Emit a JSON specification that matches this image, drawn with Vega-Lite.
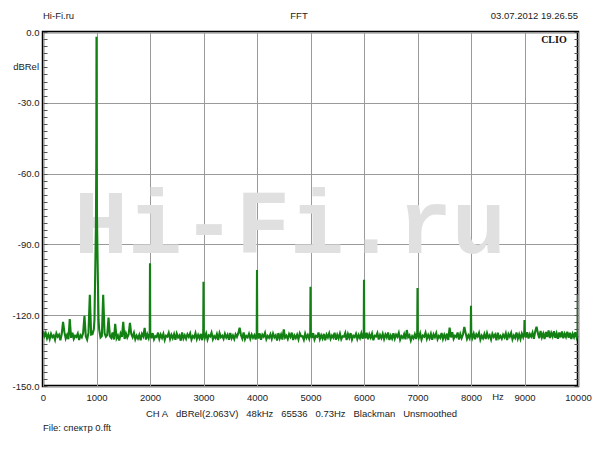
{
  "$schema": "https://vega.github.io/schema/vega-lite/v6.json",
  "width": 535,
  "height": 354,
  "autosize": {"type": "none"},
  "padding": {"left": 43, "top": 32, "right": 22, "bottom": 64},
  "background": "white",
  "config": {
    "view": {"stroke": "#000000", "strokeWidth": 2.5},
    "font": "Liberation Sans",
    "text": {"font": "Liberation Sans", "fontSize": 9.5},
    "axis": {"labelFont": "Liberation Sans", "labelFontSize": 9.5, "labelColor": "#222222", "titleFont": "Liberation Sans", "titleFontSize": 9.5, "titleFontWeight": "normal", "titleColor": "#222222"}
  },
  "datasets": {
    "fft": [
      {"f":0,"db":-126.8},{"f":25,"db":-128.9},{"f":50,"db":-127.5},{"f":75,"db":-129.8},{"f":100,"db":-128.2},{"f":125,"db":-130.1},{"f":150,"db":-127.9},{"f":175,"db":-129.3},{"f":200,"db":-128.6},{"f":225,"db":-130.4},
      {"f":250,"db":-127.7},{"f":275,"db":-129.1},{"f":300,"db":-128.3},{"f":325,"db":-130.6},{"f":350,"db":-128.0},{"f":375,"db":-122.8},{"f":400,"db":-127.2},{"f":425,"db":-129.9},{"f":450,"db":-128.4},{"f":475,"db":-130.2},
      {"f":500,"db":-121.6},{"f":525,"db":-129.6},{"f":550,"db":-127.4},{"f":575,"db":-130.0},{"f":600,"db":-128.7},{"f":625,"db":-129.2},{"f":650,"db":-127.8},{"f":675,"db":-130.5},{"f":700,"db":-128.5},{"f":725,"db":-129.4},
      {"f":750,"db":-127.6},{"f":775,"db":-120.3},{"f":800,"db":-128.9},{"f":825,"db":-130.3},{"f":850,"db":-127.5},{"f":875,"db":-111.4},{"f":900,"db":-128.2},
      {"f":925,"db":-128.0},{"f":950,"db":-126.0},{"f":962,"db":-122.0},{"f":972,"db":-108.0},{"f":980,"db":-96.0},{"f":990,"db":-80.0},{"f":996,"db":-55.0},{"f":998.5,"db":-25.0},{"f":1000,"db":-2.0},{"f":1001.5,"db":-25.0},{"f":1004,"db":-55.0},{"f":1010,"db":-80.0},{"f":1020,"db":-96.0},{"f":1028,"db":-108.0},{"f":1038,"db":-122.0},{"f":1050,"db":-126.0},
      {"f":1075,"db":-129.4},{"f":1100,"db":-128.8},{"f":1125,"db":-111.4},{"f":1150,"db":-127.6},{"f":1175,"db":-129.1},{"f":1200,"db":-128.4},{"f":1225,"db":-121.0},{"f":1250,"db":-128.9},{"f":1275,"db":-129.6},{"f":1300,"db":-127.3},
      {"f":1325,"db":-130.3},{"f":1350,"db":-123.7},{"f":1375,"db":-129.8},{"f":1400,"db":-128.6},{"f":1425,"db":-130.7},{"f":1450,"db":-127.8},{"f":1475,"db":-129.2},{"f":1500,"db":-122.8},{"f":1525,"db":-130.1},{"f":1550,"db":-127.7},
      {"f":1575,"db":-129.5},{"f":1600,"db":-128.2},{"f":1625,"db":-123.2},{"f":1650,"db":-128.0},{"f":1675,"db":-129.3},{"f":1700,"db":-127.5},{"f":1725,"db":-130.2},{"f":1750,"db":-128.7},{"f":1775,"db":-129.9},{"f":1800,"db":-128.3},
      {"f":1825,"db":-130.6},{"f":1850,"db":-127.9},{"f":1875,"db":-129.0},{"f":1900,"db":-125.4},{"f":1925,"db":-130.3},{"f":1950,"db":-128.1},{"f":1975,"db":-129.7},
      {"f":1995,"db":-127.5},{"f":2000,"db":-98.0},{"f":2005,"db":-127.5},
      {"f":2025,"db":-129.8},{"f":2050,"db":-127.6},{"f":2075,"db":-130.2},{"f":2100,"db":-128.9},{"f":2125,"db":-129.3},{"f":2150,"db":-127.4},{"f":2175,"db":-130.0},{"f":2200,"db":-128.2},{"f":2225,"db":-129.6},{"f":2250,"db":-127.9},
      {"f":2275,"db":-130.5},{"f":2300,"db":-128.7},{"f":2325,"db":-129.1},{"f":2350,"db":-127.5},{"f":2375,"db":-130.1},{"f":2400,"db":-128.3},{"f":2425,"db":-129.7},{"f":2450,"db":-128.0},{"f":2475,"db":-130.4},{"f":2500,"db":-127.8},
      {"f":2525,"db":-129.4},{"f":2550,"db":-128.6},{"f":2575,"db":-130.8},{"f":2600,"db":-127.3},{"f":2625,"db":-129.9},{"f":2650,"db":-128.5},{"f":2675,"db":-130.0},{"f":2700,"db":-128.1},{"f":2725,"db":-129.2},{"f":2750,"db":-127.7},
      {"f":2775,"db":-130.3},{"f":2800,"db":-128.8},{"f":2825,"db":-129.5},{"f":2850,"db":-127.6},{"f":2875,"db":-130.1},{"f":2900,"db":-128.4},{"f":2925,"db":-129.8},{"f":2950,"db":-127.9},{"f":2975,"db":-130.6},
      {"f":2995,"db":-127.5},{"f":3000,"db":-105.8},{"f":3005,"db":-127.5},
      {"f":3025,"db":-129.6},{"f":3050,"db":-127.8},{"f":3075,"db":-130.3},{"f":3100,"db":-128.5},{"f":3125,"db":-129.0},{"f":3150,"db":-127.4},{"f":3175,"db":-130.2},{"f":3200,"db":-128.9},{"f":3225,"db":-129.7},{"f":3250,"db":-128.0},
      {"f":3275,"db":-130.5},{"f":3300,"db":-127.6},{"f":3325,"db":-129.3},{"f":3350,"db":-128.7},{"f":3375,"db":-130.0},{"f":3400,"db":-127.9},{"f":3425,"db":-129.5},{"f":3450,"db":-128.3},{"f":3475,"db":-130.4},{"f":3500,"db":-127.5},
      {"f":3525,"db":-129.8},{"f":3550,"db":-128.6},{"f":3575,"db":-130.1},{"f":3600,"db":-128.1},{"f":3625,"db":-129.2},{"f":3650,"db":-127.7},{"f":3675,"db":-125.3},{"f":3700,"db":-128.4},{"f":3725,"db":-129.9},{"f":3750,"db":-127.3},
      {"f":3775,"db":-130.2},{"f":3800,"db":-128.8},{"f":3825,"db":-129.4},{"f":3850,"db":-127.9},{"f":3875,"db":-130.0},{"f":3900,"db":-128.2},{"f":3925,"db":-129.6},{"f":3950,"db":-128.5},{"f":3975,"db":-130.3},
      {"f":3995,"db":-127.5},{"f":4000,"db":-100.8},{"f":4005,"db":-127.5},
      {"f":4025,"db":-129.9},{"f":4050,"db":-127.7},{"f":4075,"db":-130.4},{"f":4100,"db":-128.3},{"f":4125,"db":-129.1},{"f":4150,"db":-127.5},{"f":4175,"db":-130.2},{"f":4200,"db":-128.8},{"f":4225,"db":-129.6},{"f":4250,"db":-128.1},
      {"f":4275,"db":-130.0},{"f":4300,"db":-127.8},{"f":4325,"db":-129.4},{"f":4350,"db":-128.5},{"f":4375,"db":-130.7},{"f":4400,"db":-127.6},{"f":4425,"db":-129.8},{"f":4450,"db":-128.2},{"f":4475,"db":-130.3},{"f":4500,"db":-126.0},
      {"f":4525,"db":-129.5},{"f":4550,"db":-128.7},{"f":4575,"db":-130.1},{"f":4600,"db":-128.0},{"f":4625,"db":-129.2},{"f":4650,"db":-127.4},{"f":4675,"db":-130.5},{"f":4700,"db":-128.6},{"f":4725,"db":-129.7},{"f":4750,"db":-128.3},
      {"f":4775,"db":-130.2},{"f":4800,"db":-127.7},{"f":4825,"db":-129.0},{"f":4850,"db":-128.9},{"f":4875,"db":-130.4},{"f":4900,"db":-127.8},{"f":4925,"db":-129.6},{"f":4950,"db":-128.4},{"f":4975,"db":-130.0},
      {"f":4995,"db":-127.5},{"f":5000,"db":-108.0},{"f":5005,"db":-127.5},
      {"f":5025,"db":-129.7},{"f":5050,"db":-127.6},{"f":5075,"db":-130.3},{"f":5100,"db":-128.8},{"f":5125,"db":-129.2},{"f":5150,"db":-127.3},{"f":5175,"db":-130.1},{"f":5200,"db":-128.5},{"f":5225,"db":-129.9},{"f":5250,"db":-127.9},
      {"f":5275,"db":-130.6},{"f":5300,"db":-128.2},{"f":5325,"db":-129.4},{"f":5350,"db":-127.7},{"f":5375,"db":-130.0},{"f":5400,"db":-128.6},{"f":5425,"db":-129.5},{"f":5450,"db":-127.4},{"f":5475,"db":-130.4},{"f":5500,"db":-128.3},
      {"f":5525,"db":-129.8},{"f":5550,"db":-127.8},{"f":5575,"db":-130.2},{"f":5600,"db":-128.9},{"f":5625,"db":-129.1},{"f":5650,"db":-127.5},{"f":5675,"db":-130.5},{"f":5700,"db":-128.0},{"f":5725,"db":-129.6},{"f":5750,"db":-127.6},
      {"f":5775,"db":-130.3},{"f":5800,"db":-128.7},{"f":5825,"db":-129.3},{"f":5850,"db":-127.9},{"f":5875,"db":-130.1},{"f":5900,"db":-128.4},{"f":5925,"db":-129.7},{"f":5950,"db":-127.7},{"f":5975,"db":-130.0},
      {"f":5995,"db":-127.5},{"f":6000,"db":-105.0},{"f":6005,"db":-127.5},
      {"f":6025,"db":-129.8},{"f":6050,"db":-127.4},{"f":6075,"db":-130.2},{"f":6100,"db":-128.1},{"f":6125,"db":-129.5},{"f":6150,"db":-127.8},{"f":6175,"db":-130.6},{"f":6200,"db":-128.7},{"f":6225,"db":-129.0},{"f":6250,"db":-127.6},
      {"f":6275,"db":-130.3},{"f":6300,"db":-128.4},{"f":6325,"db":-129.7},{"f":6350,"db":-127.9},{"f":6375,"db":-130.1},{"f":6400,"db":-128.2},{"f":6425,"db":-129.4},{"f":6450,"db":-127.3},{"f":6475,"db":-130.5},{"f":6500,"db":-128.6},
      {"f":6525,"db":-129.9},{"f":6550,"db":-127.7},{"f":6575,"db":-130.0},{"f":6600,"db":-128.3},{"f":6625,"db":-129.2},{"f":6650,"db":-127.5},{"f":6675,"db":-130.4},{"f":6700,"db":-128.9},{"f":6725,"db":-129.6},{"f":6750,"db":-128.0},
      {"f":6775,"db":-130.2},{"f":6800,"db":-126.3},{"f":6825,"db":-129.3},{"f":6850,"db":-128.5},{"f":6875,"db":-130.7},{"f":6900,"db":-128.9},{"f":6925,"db":-129.8},{"f":6950,"db":-128.1},{"f":6975,"db":-130.1},
      {"f":6995,"db":-127.5},{"f":7000,"db":-108.5},{"f":7005,"db":-127.5},
      {"f":7025,"db":-129.5},{"f":7050,"db":-127.7},{"f":7075,"db":-130.3},{"f":7100,"db":-128.6},{"f":7125,"db":-129.1},{"f":7150,"db":-127.4},{"f":7175,"db":-130.0},{"f":7200,"db":-128.4},{"f":7225,"db":-129.8},{"f":7250,"db":-127.9},
      {"f":7275,"db":-130.4},{"f":7300,"db":-128.1},{"f":7325,"db":-129.3},{"f":7350,"db":-127.6},{"f":7375,"db":-130.2},{"f":7400,"db":-128.8},{"f":7425,"db":-129.6},{"f":7450,"db":-127.5},{"f":7475,"db":-130.1},{"f":7500,"db":-128.3},
      {"f":7525,"db":-129.9},{"f":7550,"db":-127.8},{"f":7575,"db":-130.5},{"f":7600,"db":-125.3},{"f":7625,"db":-129.4},{"f":7650,"db":-127.2},{"f":7675,"db":-130.0},{"f":7700,"db":-128.7},{"f":7725,"db":-129.2},{"f":7750,"db":-127.3},
      {"f":7775,"db":-130.3},{"f":7800,"db":-128.0},{"f":7825,"db":-129.7},{"f":7850,"db":-128.2},{"f":7875,"db":-125.0},{"f":7900,"db":-127.6},{"f":7925,"db":-130.0},{"f":7950,"db":-128.5},{"f":7975,"db":-129.8},
      {"f":7995,"db":-127.5},{"f":8000,"db":-116.0},{"f":8005,"db":-127.5},
      {"f":8025,"db":-129.6},{"f":8050,"db":-127.8},{"f":8075,"db":-130.2},{"f":8100,"db":-128.1},{"f":8125,"db":-129.0},{"f":8150,"db":-127.5},{"f":8175,"db":-130.4},{"f":8200,"db":-128.7},{"f":8225,"db":-129.8},{"f":8250,"db":-128.0},
      {"f":8275,"db":-130.1},{"f":8300,"db":-127.6},{"f":8325,"db":-129.5},{"f":8350,"db":-128.5},{"f":8375,"db":-130.3},{"f":8400,"db":-127.9},{"f":8425,"db":-129.2},{"f":8450,"db":-128.2},{"f":8475,"db":-130.6},{"f":8500,"db":-127.4},
      {"f":8525,"db":-129.7},{"f":8550,"db":-128.8},{"f":8575,"db":-130.0},{"f":8600,"db":-128.3},{"f":8625,"db":-129.4},{"f":8650,"db":-127.7},{"f":8675,"db":-130.5},{"f":8700,"db":-128.0},{"f":8725,"db":-129.1},{"f":8750,"db":-127.5},
      {"f":8775,"db":-130.2},{"f":8800,"db":-128.6},{"f":8825,"db":-129.6},{"f":8850,"db":-127.3},{"f":8875,"db":-129.9},{"f":8900,"db":-128.1},{"f":8925,"db":-130.1},{"f":8950,"db":-127.8},{"f":8975,"db":-129.3},
      {"f":8995,"db":-127.5},{"f":9000,"db":-122.0},{"f":9005,"db":-127.5},
      {"f":9025,"db":-129.5},{"f":9050,"db":-127.2},{"f":9075,"db":-129.9},{"f":9100,"db":-128.0},{"f":9125,"db":-129.1},{"f":9150,"db":-127.4},{"f":9175,"db":-130.0},{"f":9200,"db":-126.9},{"f":9225,"db":-124.9},{"f":9250,"db":-127.6},
      {"f":9275,"db":-129.8},{"f":9300,"db":-126.7},{"f":9325,"db":-129.4},{"f":9350,"db":-127.8},{"f":9375,"db":-130.1},{"f":9400,"db":-127.1},{"f":9425,"db":-129.2},{"f":9450,"db":-126.5},{"f":9475,"db":-129.7},{"f":9500,"db":-127.5},
      {"f":9525,"db":-129.0},{"f":9550,"db":-126.8},{"f":9575,"db":-129.6},{"f":9600,"db":-127.7},{"f":9625,"db":-130.0},{"f":9650,"db":-127.3},{"f":9675,"db":-129.4},{"f":9700,"db":-126.9},{"f":9725,"db":-129.8},{"f":9750,"db":-127.8},
      {"f":9775,"db":-129.2},{"f":9800,"db":-127.0},{"f":9825,"db":-129.6},{"f":9850,"db":-127.4},{"f":9875,"db":-130.1},{"f":9900,"db":-127.9},{"f":9925,"db":-129.3},{"f":9950,"db":-127.2},{"f":9975,"db":-129.5},{"f":9995,"db":-128.0},{"f":10000,"db":-111.0}
    ]
  },
  "layer": [
    {
      "data": {"values": [{"label": "Hi-Fi.ru"}]},
      "mark": {"type": "text", "font": "Liberation Mono", "fontWeight": "bold", "fontSize": 90, "color": "#e0e0e0", "align": "center", "baseline": "middle"},
      "encoding": {
        "text": {"field": "label"},
        "x": {"datum": 4617, "type": "quantitative", "scale": {"domain": [0, 10000], "nice": false, "zero": false}, "axis": null},
        "y": {"datum": -82, "type": "quantitative", "scale": {"domain": [-150, 0], "nice": false}, "axis": null}
      }
    },
    {
      "data": {"name": "fft"},
      "mark": {"type": "line", "color": "#128012", "strokeWidth": 2.1, "clip": true},
      "encoding": {
        "x": {
          "field": "f", "type": "quantitative",
          "scale": {"domain": [0, 10000], "nice": false, "zero": false},
          "axis": {
            "orient": "bottom",
            "values": [0, 1000, 2000, 3000, 4000, 5000, 6000, 7000, 8000, 9000, 10000],
            "format": "d", "labelFlush": false, "labelOverlap": false, "labelPadding": 6,
            "ticks": false, "domain": false, "grid": true, "gridColor": "#9a9a9a", "gridWidth": 1,
            "title": "CH A\u00a0\u00a0\u00a0dBRel(2.063V)\u00a0\u00a0\u00a048kHz\u00a0\u00a0\u00a065536\u00a0\u00a0\u00a00.73Hz\u00a0\u00a0\u00a0Blackman\u00a0\u00a0\u00a0Unsmoothed",
            "titlePadding": 7, "titleX": 258
          }
        },
        "y": {
          "field": "db", "type": "quantitative",
          "scale": {"domain": [-150, 0], "nice": false},
          "axis": {
            "orient": "left",
            "values": [-150, -120, -90, -60, -30, 0],
            "labelExpr": "datum.value === 0 ? '0.0' : '-' + format(-datum.value, '.1f')",
            "labelOverlap": false, "labelPadding": 4,
            "ticks": false, "domain": false, "grid": true, "gridColor": "#9a9a9a", "gridWidth": 1,
            "title": null
          }
        }
      }
    },
    {
      "data": {"values": [{"label": "dBRel"}]},
      "mark": {"type": "text", "color": "#222222", "align": "right", "baseline": "middle", "dx": -4},
      "encoding": {
        "text": {"field": "label"},
        "x": {"datum": 0, "type": "quantitative", "scale": {"domain": [0, 10000], "nice": false, "zero": false}, "axis": null},
        "y": {
          "datum": -14.7, "type": "quantitative", "scale": {"domain": [-150, 0], "nice": false},
          "axis": {
            "orient": "left", "offset": -4,
            "values": [-150,-147,-144,-141,-138,-135,-132,-129,-126,-123,-120,-117,-114,-111,-108,-105,-102,-99,-96,-93,-90,-87,-84,-81,-78,-75,-72,-69,-66,-63,-60,-57,-54,-51,-48,-45,-42,-39,-36,-33,-30,-27,-24,-21,-18,-15,-12,-9,-6,-3,0],
            "labels": false, "ticks": true, "tickSize": 4, "tickColor": "#555555", "tickWidth": 1,
            "domain": false, "grid": false, "title": null
          }
        }
      }
    },
    {
      "data": {"values": [{"label": "CLIO"}]},
      "mark": {"type": "text", "font": "Liberation Serif", "fontWeight": "bold", "fontSize": 10, "color": "#111111", "align": "right", "baseline": "middle"},
      "encoding": {
        "text": {"field": "label"},
        "x": {"datum": 9789, "type": "quantitative", "scale": {"domain": [0, 10000], "nice": false, "zero": false}, "axis": null},
        "y": {
          "datum": -3.4, "type": "quantitative", "scale": {"domain": [-150, 0], "nice": false},
          "axis": {
            "orient": "right", "offset": -4,
            "values": [-150,-147,-144,-141,-138,-135,-132,-129,-126,-123,-120,-117,-114,-111,-108,-105,-102,-99,-96,-93,-90,-87,-84,-81,-78,-75,-72,-69,-66,-63,-60,-57,-54,-51,-48,-45,-42,-39,-36,-33,-30,-27,-24,-21,-18,-15,-12,-9,-6,-3,0],
            "labels": false, "ticks": true, "tickSize": 4, "tickColor": "#555555", "tickWidth": 1,
            "domain": false, "grid": false, "title": null
          }
        }
      }
    },
    {
      "data": {"values": [{"label": "Hi-Fi.ru"}]},
      "mark": {"type": "text", "color": "#222222", "align": "left", "baseline": "middle"},
      "encoding": {
        "text": {"field": "label"},
        "x": {"datum": 0, "type": "quantitative", "scale": {"domain": [0, 10000], "nice": false, "zero": false}, "axis": null},
        "y": {"datum": 6.8, "type": "quantitative", "scale": {"domain": [-150, 0], "nice": false}, "axis": null}
      }
    },
    {
      "data": {"values": [{"label": "FFT"}]},
      "mark": {"type": "text", "color": "#222222", "align": "center", "baseline": "middle"},
      "encoding": {
        "text": {"field": "label"},
        "x": {"datum": 4785, "type": "quantitative", "scale": {"domain": [0, 10000], "nice": false, "zero": false}, "axis": null},
        "y": {"datum": 6.8, "type": "quantitative", "scale": {"domain": [-150, 0], "nice": false}, "axis": null}
      }
    },
    {
      "data": {"values": [{"label": "03.07.2012 19.26.55"}]},
      "mark": {"type": "text", "color": "#222222", "align": "right", "baseline": "middle"},
      "encoding": {
        "text": {"field": "label"},
        "x": {"datum": 10000, "type": "quantitative", "scale": {"domain": [0, 10000], "nice": false, "zero": false}, "axis": null},
        "y": {"datum": 6.8, "type": "quantitative", "scale": {"domain": [-150, 0], "nice": false}, "axis": null}
      }
    },
    {
      "data": {"values": [{"label": "Hz"}]},
      "mark": {"type": "text", "color": "#222222", "align": "center", "baseline": "middle"},
      "encoding": {
        "text": {"field": "label"},
        "x": {"datum": 8505, "type": "quantitative", "scale": {"domain": [0, 10000], "nice": false, "zero": false}, "axis": null},
        "y": {"datum": -154.7, "type": "quantitative", "scale": {"domain": [-150, 0], "nice": false}, "axis": null}
      }
    },
    {
      "data": {"values": [{"label": "File: спектр 0.fft"}]},
      "mark": {"type": "text", "color": "#222222", "align": "left", "baseline": "middle"},
      "encoding": {
        "text": {"field": "label"},
        "x": {"datum": 0, "type": "quantitative", "scale": {"domain": [0, 10000], "nice": false, "zero": false}, "axis": null},
        "y": {"datum": -167.8, "type": "quantitative", "scale": {"domain": [-150, 0], "nice": false}, "axis": null}
      }
    }
  ],
  "resolve": {"axis": {"x": "independent", "y": "independent"}}
}
